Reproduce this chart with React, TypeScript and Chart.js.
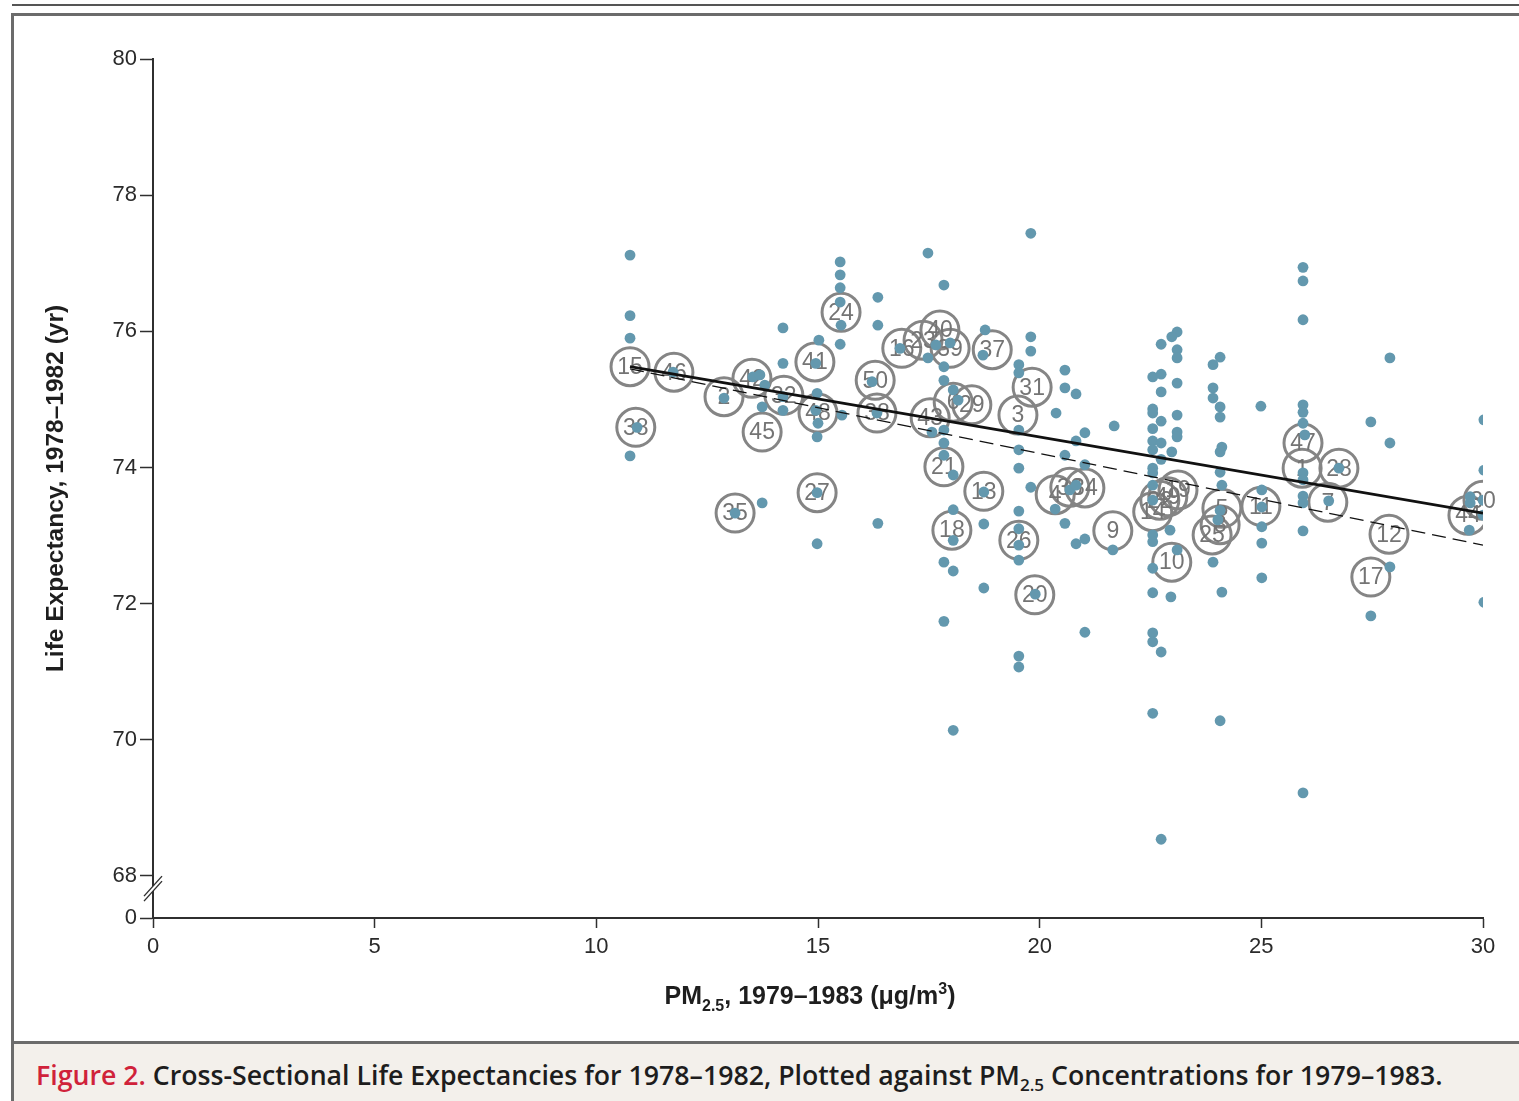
import React, { useEffect, useRef } from "react";
import { Chart, registerables } from "chart.js";

Chart.register(...registerables);

// ---------- axes ----------
const xTicks = [0, 5, 10, 15, 20, 25, 30];
const yTicks = [68, 70, 72, 74, 76, 78, 80];
const yBreakValue = 67.383; // where the "0" tick sits below the axis break
const yBreakLabel = "0";

// ---------- regression lines ----------
const fitPm = [10.76, 30];
const fitSolid = [75.48, 73.33];
const fitDashed = [75.45, 72.86];

// ---------- county dots (PM2.5, life expectancy) ----------
const dotPm = [
  10.76, 10.76, 10.76, 10.92, 10.76,
  11.73, 12.88, 13.13, 13.53, 13.69, 13.8, 13.74, 13.74,
  14.21, 14.21, 14.21, 14.21,
  15.02, 14.95, 14.98, 14.95, 15.0, 14.98, 14.98, 14.98,
  15.5, 15.5, 15.5, 15.5, 15.52, 15.5, 15.54,
  16.35, 16.35, 16.35, 16.22, 16.33,
  17.48, 17.84, 16.85, 17.48, 17.84, 17.84, 18.05, 17.57, 17.84, 17.84, 17.84, 18.05, 18.05, 18.05, 17.84, 18.05, 17.84, 18.05, 17.66, 17.98, 18.16,
  18.77, 18.72, 18.74, 18.74, 18.74,
  19.53, 19.53, 19.53, 19.53, 19.53, 19.53, 19.53, 19.53, 19.53, 19.53, 19.53,
  19.8, 19.8, 19.8, 19.8, 19.9,
  20.37, 20.57, 20.57, 20.82, 21.02, 20.82, 20.57, 20.35, 20.57, 20.82, 21.02, 21.02, 21.68, 21.65, 20.68, 21.02, 20.82,
  22.55, 22.55, 22.55, 22.55, 22.55, 22.55, 22.55, 22.55, 22.55, 22.55, 22.55, 22.55, 22.55, 22.55, 22.55, 22.55, 22.55,
  22.74, 22.74, 22.74, 22.74, 22.74, 22.74, 22.74, 22.74, 22.94, 22.96,
  23.1, 22.98, 23.1, 23.1, 23.1, 23.1, 23.1, 23.1, 22.98, 23.1,
  24.07, 23.91, 23.91, 23.91, 24.07, 24.07, 24.11, 24.07, 24.07, 24.11, 23.91, 24.11, 24.07, 24.07, 24.02,
  24.99, 25.01, 25.01, 25.01, 25.01, 25.01,
  25.94, 25.94, 25.94, 25.94, 25.94, 25.94, 25.98, 25.94, 25.94, 25.94, 25.94, 25.94, 25.94,
  26.52, 26.75,
  27.47, 27.47,
  27.9, 27.9, 27.9,
  30.02, 30.02, 29.71, 30.0, 29.69, 30.02, 29.71, 30.0,
];
const dotLife = [
  77.12, 76.23, 75.9, 74.59, 74.17,
  75.4, 75.02, 73.33, 75.33, 75.36, 75.21, 74.89, 73.48,
  76.05, 75.53, 75.04, 74.84,
  75.87, 75.53, 75.09, 74.84, 74.65, 74.45, 73.63, 72.88,
  77.02, 76.83, 76.64, 76.43, 76.09, 75.81, 74.77,
  76.5, 76.09, 73.18, 75.26, 74.8,
  77.15, 76.68, 75.75, 75.61, 75.48, 75.28, 75.14, 74.52, 74.55, 74.36, 74.18, 73.89, 73.38, 72.93, 72.61, 72.48, 71.74, 70.14, 75.8, 75.83, 74.99,
  76.02, 75.65, 73.64, 73.17, 72.23,
  75.51, 75.39, 74.55, 74.26, 73.99, 73.36, 73.1, 72.86, 72.64, 71.23, 71.07,
  77.44, 75.92, 75.71, 73.71, 72.14,
  74.8, 75.43, 75.17, 75.08, 74.51, 74.39, 74.18, 73.39, 73.18, 72.88, 72.95, 71.58, 74.61, 72.79, 73.67, 74.04, 73.74,
  75.33, 74.86, 74.8, 74.57, 74.39, 74.26, 73.99, 73.92, 73.74, 73.52, 73.01, 72.91, 72.52, 72.16, 71.57, 71.44, 70.39,
  75.37, 75.11, 74.68, 74.36, 74.12, 75.81, 71.29, 68.54, 73.08, 72.1,
  75.99, 75.92, 75.73, 75.61, 75.24, 74.77, 74.52, 74.45, 74.23, 72.79,
  75.62, 75.51, 75.17, 75.02, 74.89, 74.74, 74.3, 74.23, 73.93, 73.74, 72.61, 72.17, 70.28, 73.37, 73.23,
  74.9, 73.67, 73.42, 73.13, 72.89, 72.38,
  76.94, 76.74, 76.17, 74.92, 74.81, 74.65, 74.48, 73.92, 73.82, 73.58, 73.48, 73.07, 69.22,
  73.51, 73.99,
  74.67, 71.82,
  75.61, 74.36, 72.54,
  74.7, 73.96, 73.48, 73.3, 73.08, 72.02, 73.57, 73.52,
];

// ---------- numbered circles ----------
const circleLabels = [
  "15", "46", "2", "42", "32", "45", "38", "35", "41", "48",
  "27", "24", "50", "38", "16", "23", "40", "39", "37", "31",
  "3", "43", "6", "29", "21", "13", "18", "26", "20", "4",
  "36", "34", "9", "14", "22", "49", "19", "10", "25", "8",
  "5", "11", "47", "1", "28", "7", "12", "17", "30", "44",
];
const circlePm = [
  10.76, 11.75, 12.88, 13.51, 14.23, 13.74, 10.89, 13.13, 14.93, 15.0,
  14.98, 15.52, 16.29, 16.33, 16.89, 17.37, 17.75, 17.98, 18.93, 19.83,
  19.51, 17.53, 18.05, 18.47, 17.84, 18.74, 18.02, 19.53, 19.89, 20.35,
  20.68, 21.02, 21.65, 22.55, 22.71, 22.89, 23.12, 22.98, 23.89, 24.07,
  24.11, 24.99, 25.94, 25.92, 26.75, 26.5, 27.88, 27.47, 30.0, 29.66,
];
const circleLife = [
  75.48, 75.4, 75.04, 75.31, 75.06, 74.52, 74.59, 73.33, 75.55, 74.8,
  73.63, 76.28, 75.28, 74.8, 75.75, 75.87, 76.02, 75.75, 75.73, 75.18,
  74.77, 74.73, 74.96, 74.92, 74.01, 73.65, 73.08, 72.93, 72.13, 73.6,
  73.71, 73.7, 73.07, 73.35, 73.52, 73.57, 73.67, 72.61, 73.01, 73.16,
  73.4, 73.43, 74.36, 73.99, 73.99, 73.49, 73.02, 72.39, 73.52, 73.3,
];

const CIRCLE_INDEX = 3;
const AXIS_COLOR = "#2f2f2f";
const TICK_FONT = '"Liberation Sans", Arial, sans-serif';

const circleLabelPlugin = {
  id: "circleLabels",
  afterDatasetDraw(chart: any, args: any) {
    if (args.index !== CIRCLE_INDEX) return;
    const ctx = chart.ctx;
    ctx.save();
    ctx.font = `23px ${TICK_FONT}`;
    ctx.fillStyle = "#747474";
    ctx.textAlign = "center";
    ctx.textBaseline = "middle";
    args.meta.data.forEach((el: any, i: number) => {
      ctx.fillText(circleLabels[i], el.x, el.y + 1);
    });
    ctx.restore();
  },
};

const decorPlugin = {
  id: "decor",
  afterDraw(chart: any) {
    const ctx = chart.ctx;
    const xs = chart.scales.x;
    const ys = chart.scales.y;
    const axX = xs.getPixelForValue(0);
    const yTop = ys.getPixelForValue(68);
    const yBot = ys.getPixelForValue(yBreakValue);
    // axis break "//"
    const cy = yTop + (yBot - yTop) * 0.3;
    const dx = 9;
    const dy = 10;
    const gap = 5;
    ctx.save();
    ctx.fillStyle = "#ffffff";
    ctx.beginPath();
    ctx.moveTo(axX - dx, cy + dy - gap / 2);
    ctx.lineTo(axX + dx, cy - dy - gap / 2);
    ctx.lineTo(axX + dx, cy - dy + gap / 2);
    ctx.lineTo(axX - dx, cy + dy + gap / 2);
    ctx.closePath();
    ctx.fill();
    ctx.strokeStyle = AXIS_COLOR;
    ctx.lineWidth = 1.4;
    [-gap / 2, gap / 2].forEach((o) => {
      ctx.beginPath();
      ctx.moveTo(axX - dx, cy + dy + o);
      ctx.lineTo(axX + dx, cy - dy + o);
      ctx.stroke();
    });
    // x axis title with sub/superscripts
    const parts = [
      { t: "PM", size: 25, dy: 0 },
      { t: "2.5", size: 16, dy: 7 },
      { t: ", 1979\u20131983 (\u03bcg/m", size: 25, dy: 0 },
      { t: "3", size: 16, dy: -10 },
      { t: ")", size: 25, dy: 0 },
    ];
    let total = 0;
    parts.forEach((p) => {
      ctx.font = `bold ${p.size}px ${TICK_FONT}`;
      total += ctx.measureText(p.t).width;
    });
    let x = (xs.left + xs.right) / 2 - 8 - total / 2;
    const base = 1004;
    ctx.fillStyle = "#1e1e1e";
    ctx.textBaseline = "alphabetic";
    ctx.textAlign = "left";
    parts.forEach((p) => {
      ctx.font = `bold ${p.size}px ${TICK_FONT}`;
      ctx.fillText(p.t, x, base + p.dy);
      x += ctx.measureText(p.t).width;
    });
    ctx.restore();
  },
};

export default function App() {
  const canvasRef = useRef<HTMLCanvasElement | null>(null);

  useEffect(() => {
    if (!canvasRef.current) return;
    const dots = dotPm.map((x, i) => ({ x, y: dotLife[i] }));
    const circles = circlePm.map((x, i) => ({ x, y: circleLife[i] }));
    const solid = fitPm.map((x, i) => ({ x, y: fitSolid[i] }));
    const dashed = fitPm.map((x, i) => ({ x, y: fitDashed[i] }));

    const chart = new Chart(canvasRef.current, {
      type: "scatter",
      data: {
        datasets: [
          {
            label: "fit",
            data: solid,
            showLine: true,
            borderColor: "#111111",
            borderWidth: 2.8,
            pointRadius: 0,
          },
          {
            label: "fit2",
            data: dashed,
            showLine: true,
            borderColor: "#111111",
            borderWidth: 1.3,
            borderDash: [14, 7],
            pointRadius: 0,
          },
          {
            label: "dots",
            data: dots,
            pointRadius: 5.4,
            pointBorderWidth: 0,
            backgroundColor: "#6398ae",
            borderColor: "#6398ae",
          },
          {
            label: "circles",
            data: circles,
            pointRadius: 19,
            pointBorderWidth: 3,
            backgroundColor: "rgba(0,0,0,0)",
            borderColor: "#858585",
          },
        ],
      },
      options: {
        animation: false,
        responsive: false,
        events: [],
        layout: { padding: { top: 59, right: 36, left: 0, bottom: 0 } },
        plugins: {
          legend: { display: false },
          tooltip: { enabled: false },
        },
        scales: {
          x: {
            type: "linear",
            min: 0,
            max: 30,
            afterFit: (s: any) => {
              s.height = 122;
            },
            afterBuildTicks: (s: any) => {
              s.ticks = xTicks.map((v) => ({ value: v }));
            },
            ticks: {
              autoSkip: false,
              maxRotation: 0,
              padding: 6,
              color: "#2a2a2a",
              font: { family: TICK_FONT, size: 22 },
            },
            grid: {
              display: true,
              drawOnChartArea: false,
              drawTicks: true,
              tickLength: 10,
              tickColor: AXIS_COLOR,
              tickWidth: 1.5,
            },
            border: { display: true, color: AXIS_COLOR, width: 2 },
          },
          y: {
            type: "linear",
            min: yBreakValue,
            max: 80,
            afterFit: (s: any) => {
              s.width = 153;
            },
            afterBuildTicks: (s: any) => {
              s.ticks = [yBreakValue, ...yTicks].map((v) => ({ value: v }));
            },
            ticks: {
              autoSkip: false,
              padding: 3,
              color: "#2a2a2a",
              font: { family: TICK_FONT, size: 22 },
              callback: (v: any) => (Number(v) < 68 ? yBreakLabel : String(v)),
            },
            grid: {
              display: true,
              drawOnChartArea: false,
              drawTicks: true,
              tickLength: 13,
              tickColor: AXIS_COLOR,
              tickWidth: 1.5,
            },
            border: { display: true, color: AXIS_COLOR, width: 2 },
            title: {
              display: true,
              text: "Life Expectancy, 1978\u20131982 (yr)",
              color: "#1e1e1e",
              font: { family: TICK_FONT, size: 24.5, weight: "bold" },
              padding: { top: 42, bottom: 0 },
            },
          },
        },
      },
      plugins: [circleLabelPlugin, decorPlugin],
    } as any);

    return () => chart.destroy();
  }, []);

  const frame = "#6b6b6b";
  return (
    <div
      style={{
        position: "absolute",
        left: 0,
        top: 0,
        width: 1519,
        height: 1101,
        overflow: "hidden",
        background: "#ffffff",
      }}
    >
      <canvas
        ref={canvasRef}
        width={1519}
        height={1040}
        style={{ position: "absolute", left: 0, top: 0, width: 1519, height: 1040 }}
      />
      <div style={{ position: "absolute", left: 12, top: 4, width: 1507, height: 2, background: "#555" }} />
      <div style={{ position: "absolute", left: 11, top: 13, width: 1508, height: 3, background: frame }} />
      <div style={{ position: "absolute", left: 11, top: 13, width: 3, height: 1088, background: frame }} />
      <div style={{ position: "absolute", left: 11, top: 1041, width: 1508, height: 3, background: frame }} />
      <div
        style={{
          position: "absolute",
          left: 14,
          top: 1044,
          width: 1505,
          height: 57,
          boxSizing: "border-box",
          background: "#f3f0eb",
          paddingLeft: 22,
          paddingTop: 15,
          fontFamily: '"Open Sans", "Liberation Sans", sans-serif',
          fontWeight: 600,
          fontSize: 26.7,
          lineHeight: "32px",
          color: "#1d1d1d",
          whiteSpace: "nowrap",
        }}
      >
        <span style={{ color: "#d0223a" }}>Figure 2.</span> Cross-Sectional Life Expectancies for 1978–1982,
        Plotted against PM<sub style={{ fontSize: 17, lineHeight: 0 }}>2.5</sub> Concentrations for 1979–1983.
      </div>
    </div>
  );
}
